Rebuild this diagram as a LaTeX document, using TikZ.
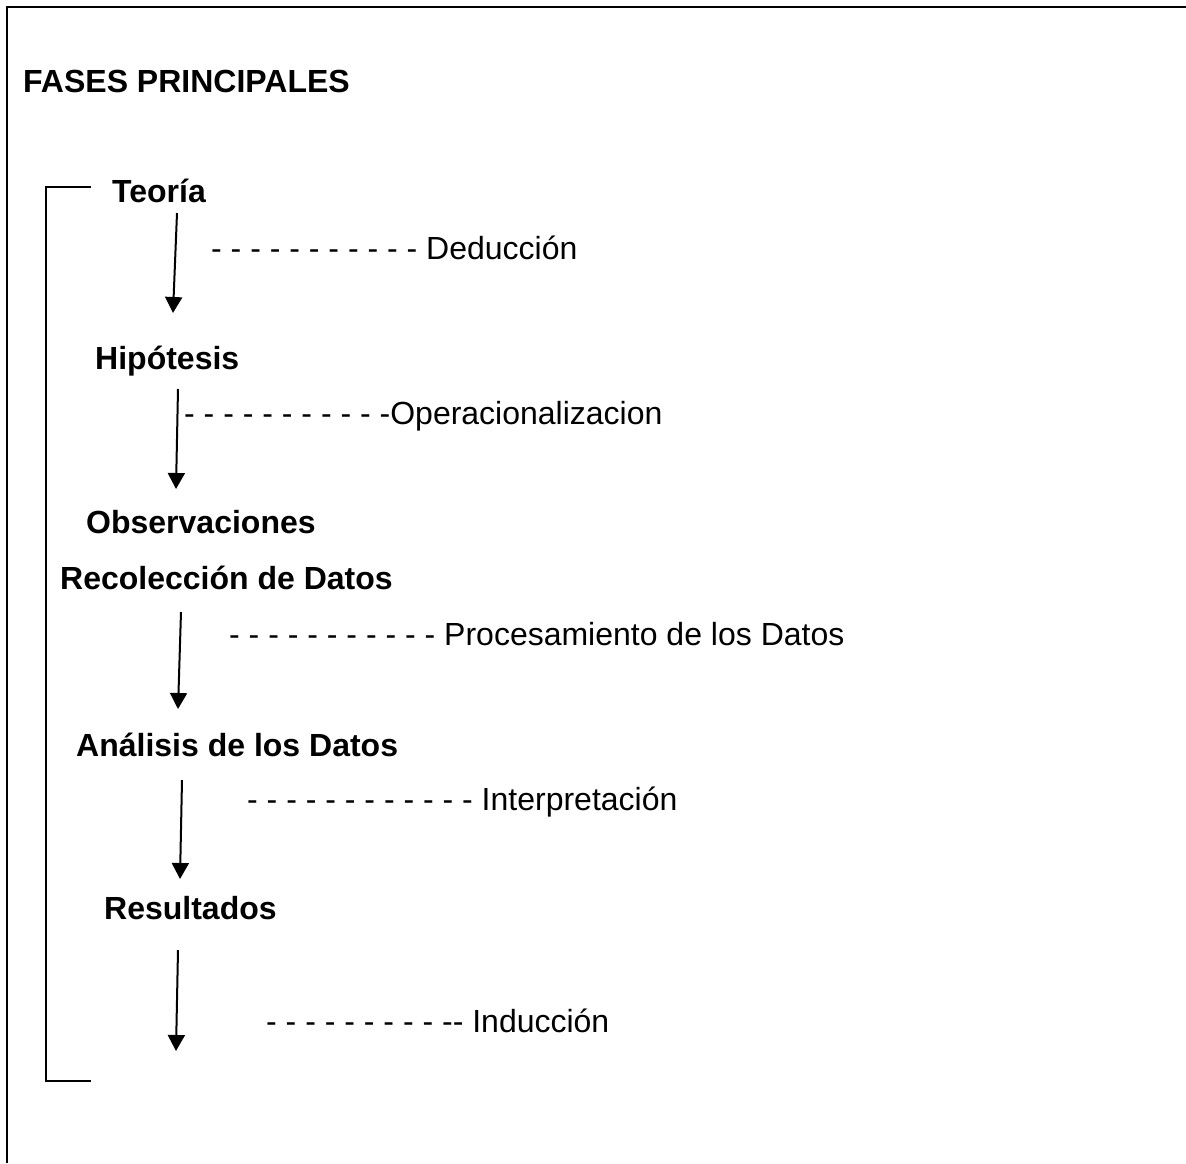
\documentclass[tikz,border=0pt]{standalone}
\usepackage{fontspec}
\setmainfont{Liberation Sans}
\usetikzlibrary{arrows.meta}
\begin{document}
\begin{tikzpicture}[x=1pt,y=-1pt,
  lbl/.style={anchor=base west,inner sep=0pt,font=\fontsize{32}{38}\selectfont},
  phase/.style={lbl,font=\fontsize{32}{38}\selectfont\bfseries},
  flow/.style={line width=2pt,-{Triangle[width=17pt,length=16pt]}},
  frame/.style={line width=2.3pt},
  bracket/.style={line width=1.8pt}]
\useasboundingbox (0,0) rectangle (1186,1163);
% frame
\draw[frame] (7,1163) -- (7,7) -- (1186,7);
% title
\node[phase] (title) at (23,92) {FASES PRINCIPALES};
% bracket
\coordinate (btop) at (91,187);
\coordinate (bbot) at (91,1081);
\draw[bracket] (btop) -| (46,1081) -- (bbot);
% phases
\node[phase] (teoria) at (112,202) {Teoría};
\node[phase] (hipo) at (95,369) {Hipótesis};
\node[phase] (obs) at (86,533) {Observaciones};
\node[phase] (recol) at (60,589) {Recolección de Datos};
\node[phase] (anal) at (76,756) {Análisis de los Datos};
\node[phase] (res) at (104,919) {Resultados};
% side labels
\node[lbl] (ded) at (211,259) {- - - - - - - - - - - Deducción};
\node[lbl] (oper) at (184,424) {- - - - - - - - - - -Operacionalizacion};
\node[lbl] (proc) at (229,645) {- - - - - - - - - - - Procesamiento de los Datos};
\node[lbl] (interp) at (247,810) {- - - - - - - - - - - - Interpretación};
\node[lbl] (induc) at (266,1032) {- - - - - - - - - -{}- Inducción};
% arrow end points
\coordinate (a1s) at (177,213); \coordinate (a1e) at (173,313);
\coordinate (a2s) at (178,389); \coordinate (a2e) at (176,489);
\coordinate (a3s) at (181,612); \coordinate (a3e) at (178,709);
\coordinate (a4s) at (182,780); \coordinate (a4e) at (180,879);
\coordinate (a5s) at (178,950); \coordinate (a5e) at (176,1051);
\draw[flow] (a1s) -- (a1e);
\draw[flow] (a2s) -- (a2e);
\draw[flow] (a3s) -- (a3e);
\draw[flow] (a4s) -- (a4e);
\draw[flow] (a5s) -- (a5e);
\end{tikzpicture}
\end{document}
